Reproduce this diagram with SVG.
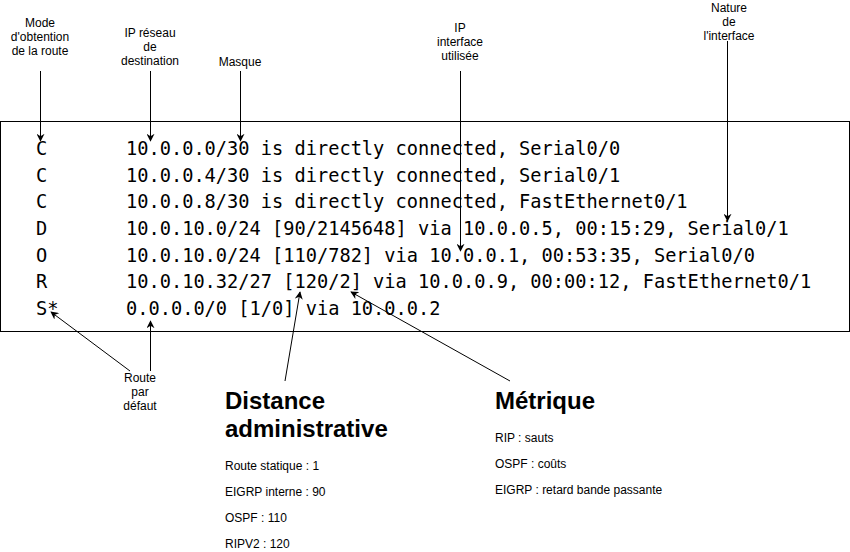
<svg xmlns="http://www.w3.org/2000/svg" width="850" height="552" viewBox="0 0 850 552">
<defs>
<marker id="arr" viewBox="0 0 10 10" refX="9" refY="5" markerWidth="8" markerHeight="8" markerUnits="userSpaceOnUse" orient="auto">
<path d="M0,0 L10,5 L0,10 L3,5 Z" fill="#000"/>
</marker>
<style>
.lbl{font-family:"Liberation Sans",Arial,sans-serif;font-size:12px;fill:#000;text-anchor:middle}
.mono{font-family:"DejaVu Sans Mono",monospace;font-size:18.67px;fill:#000}
.head{font-family:"Liberation Sans",Arial,sans-serif;font-size:24px;font-weight:bold;fill:#000}
.item{font-family:"Liberation Sans",Arial,sans-serif;font-size:12px;fill:#000}
.c{stroke:#000;stroke-width:1;fill:none;marker-end:url(#arr)}
</style>
</defs>
<rect width="850" height="552" fill="#fff"/>
<g id="table">
<rect x="0.5" y="121.5" width="849" height="210" fill="none" stroke="#000"/>
<text class="mono" x="36" y="155">C</text>
<text class="mono" x="36" y="181.7">C</text>
<text class="mono" x="36" y="208.3">C</text>
<text class="mono" x="36" y="235">D</text>
<text class="mono" x="36" y="261.7">O</text>
<text class="mono" x="36" y="288.3">R</text>
<text class="mono" x="36" y="315">S*</text>
<text class="mono" x="126" y="155">10.0.0.0/30 is directly connected, Serial0/0</text>
<text class="mono" x="126" y="181.7">10.0.0.4/30 is directly connected, Serial0/1</text>
<text class="mono" x="126" y="208.3">10.0.0.8/30 is directly connected, FastEthernet0/1</text>
<text class="mono" x="126" y="235">10.0.10.0/24 [90/2145648] via 10.0.0.5, 00:15:29, Serial0/1</text>
<text class="mono" x="126" y="261.7">10.0.10.0/24 [110/782] via 10.0.0.1, 00:53:35, Serial0/0</text>
<text class="mono" x="126" y="288.3">10.0.10.32/27 [120/2] via 10.0.0.9, 00:00:12, FastEthernet0/1</text>
<text class="mono" x="126" y="315">0.0.0.0/0 [1/0] via 10.0.0.2</text>
</g>
<g id="lbl-mode"><text class="lbl" x="40" y="27">Mode</text><text class="lbl" x="40" y="41">d'obtention</text><text class="lbl" x="40" y="55">de la route</text></g>
<g id="lbl-ipreseau"><text class="lbl" x="150" y="37">IP réseau</text><text class="lbl" x="150" y="51">de</text><text class="lbl" x="150" y="65">destination</text></g>
<g id="lbl-masque"><text class="lbl" x="240" y="66">Masque</text></g>
<g id="lbl-ipif"><text class="lbl" x="460" y="32">IP</text><text class="lbl" x="460" y="46">interface</text><text class="lbl" x="460" y="60">utilisée</text></g>
<g id="lbl-nature"><text class="lbl" x="729" y="12">Nature</text><text class="lbl" x="729" y="26">de</text><text class="lbl" x="729" y="40">l'interface</text></g>
<g id="lbl-defaut"><text class="lbl" x="140" y="382">Route</text><text class="lbl" x="140" y="396">par</text><text class="lbl" x="140" y="410">défaut</text></g>
<g id="lbl-distance">
<text class="head" x="225" y="409">Distance</text>
<text class="head" x="225" y="437">administrative</text>
<text class="item" x="225" y="470">Route statique : 1</text>
<text class="item" x="225" y="496">EIGRP interne : 90</text>
<text class="item" x="225" y="522">OSPF : 110</text>
<text class="item" x="225" y="548">RIPV2 : 120</text>
</g>
<g id="lbl-metrique">
<text class="head" x="495" y="409">Métrique</text>
<text class="item" x="495" y="442">RIP : sauts</text>
<text class="item" x="495" y="468">OSPF : coûts</text>
<text class="item" x="495" y="494">EIGRP : retard bande passante</text>
</g>
<g id="connectors">
<line class="c" x1="40.5" y1="71" x2="40.5" y2="141"/>
<line class="c" x1="150.5" y1="71" x2="150.5" y2="141"/>
<line class="c" x1="240.5" y1="71" x2="240.5" y2="141"/>
<line class="c" x1="460.5" y1="71" x2="460.5" y2="251"/>
<line class="c" x1="727.5" y1="41" x2="727.5" y2="221"/>
<line class="c" x1="150.5" y1="371" x2="150.5" y2="321"/>
<line class="c" x1="130" y1="371" x2="51" y2="312"/>
<line class="c" x1="285" y1="381" x2="300" y2="292"/>
<line class="c" x1="510" y1="381" x2="351" y2="292"/>
</g>
</svg>
